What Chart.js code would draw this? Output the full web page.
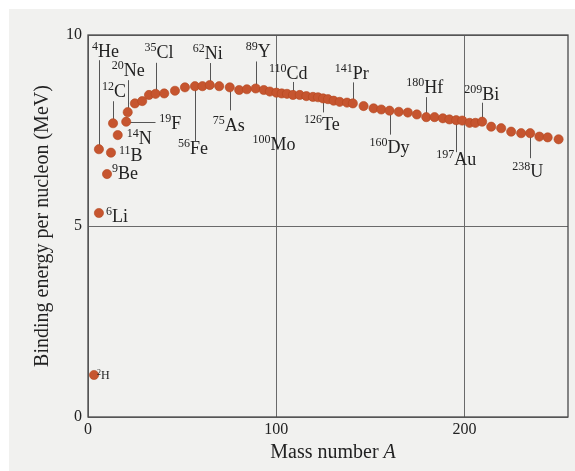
<!DOCTYPE html>
<html>
<head>
<meta charset="utf-8">
<script src="https://cdn.jsdelivr.net/npm/chart.js@4/dist/chart.umd.min.js"></script>
<style>
  html, body { margin: 0; padding: 0; background: #fff; }
  #wrap { width: 575px; height: 471px; }
</style>
</head>
<body>
<div id="wrap"><canvas id="chart"></canvas></div>
<script>
// mass number A of each plotted nucleus, as placed in the figure
const massNumbers = [
  3.2, 5.8, 5.8, 10.1, 12.2, 13.3, 15.8, 20.3, 21.1,
  24.9, 28.8, 32.4, 35.9, 40.5, 46.2, 51.5, 56.8, 60.8, 64.7,
  69.7, 75.3, 80.3, 84.4, 89.1, 93.4, 96.6, 100.1, 102.9, 105.7,
  108.9, 112.5, 116.0, 119.5, 122.2, 124.9, 127.5, 130.5, 133.7, 137.6,
  140.7, 146.4, 151.7, 155.8, 160.2, 165.1, 169.9, 174.7, 179.7, 184.1,
  188.5, 192.0, 195.6, 198.8, 202.7, 205.8, 209.4, 214.2, 219.5, 224.8,
  230.1, 234.9, 239.8, 244.2, 250.0
];
// binding energy per nucleon (MeV)
const bindingEnergies = [
  1.10, 5.34, 7.01, 6.36, 6.92, 7.69, 7.38, 7.73, 7.98,
  8.21, 8.27, 8.43, 8.46, 8.47, 8.54, 8.63, 8.66, 8.66, 8.69,
  8.66, 8.63, 8.56, 8.58, 8.60, 8.56, 8.52, 8.49, 8.47, 8.46,
  8.43, 8.43, 8.40, 8.38, 8.37, 8.34, 8.32, 8.28, 8.25, 8.23,
  8.21, 8.14, 8.08, 8.05, 8.02, 7.99, 7.97, 7.92, 7.85, 7.85,
  7.82, 7.79, 7.77, 7.76, 7.70, 7.70, 7.73, 7.60, 7.56, 7.47,
  7.43, 7.43, 7.34, 7.32, 7.27
];
const xTicks = [0, 100, 200];
const yTicks = [0, 5, 10];

// labelled nuclei: point index, mass number, symbol
const nuclideIndex = [0, 1, 2, 3, 4, 5, 6, 7, 8, 12, 16, 18, 20, 23, 26, 29, 34, 39, 43, 47, 51, 55, 60];
const nuclideMass = ["2", "6", "4", "9", "11", "12", "14", "19", "20", "35", "56", "62", "75", "89", "100", "110", "126", "141", "160", "180", "197", "209", "238"];
const nuclideSymbol = ["H", "Li", "He", "Be", "B", "C", "N", "F", "Ne", "Cl", "Fe", "Ni", "As", "Y", "Mo", "Cd", "Te", "Pr", "Dy", "Hf", "Au", "Bi", "U"];

// where each label sits relative to its point (px), and its leader line
const labelLayout = [
  {dx: 3, dy: 4, small: true},
  {dx: 7, dy: 9},
  {dx: -7, dy: -92, lead: -89},
  {dx: 5, dy: 5},
  {dx: 8, dy: 8},
  {dx: -11, dy: -26, lead: -22},
  {dx: 9, dy: 9},
  {dx: 33, dy: 7, hlead: 29},
  {dx: -16, dy: -36, lead: -32},
  {dx: -11, dy: -36, lead: -31},
  {dx: -17, dy: 68, lead: 55},
  {dx: -17, dy: -26, lead: -22},
  {dx: -17, dy: 44, lead: 23},
  {dx: -10, dy: -31, lead: -27},
  {dx: -24, dy: 57},
  {dx: -24, dy: -16, lead: -13},
  {dx: -19, dy: 32, lead: 14},
  {dx: -18, dy: -24, lead: -21},
  {dx: -20, dy: 42, lead: 24},
  {dx: -20, dy: -24, lead: -20},
  {dx: -20, dy: 45, lead: 32},
  {dx: -18, dy: -22, lead: -19},
  {dx: -18, dy: 44, lead: 25}
];

const serif = "'Liberation Serif', 'DejaVu Serif', serif";

const pagePlugin = {
  id: "page",
  beforeDraw(chart) {
    const ctx = chart.ctx;
    ctx.save();
    ctx.fillStyle = "#fff";
    ctx.fillRect(0, 0, chart.width, chart.height);
    ctx.fillStyle = "#f1f1ef";
    ctx.fillRect(9, 9, chart.width - 9, chart.height - 9);
    ctx.restore();
  },
  beforeDatasetsDraw(chart) {
    const {ctx, chartArea: a, scales: {x, y}} = chart;
    ctx.save();
    // frame round the plot
    ctx.strokeStyle = "#4a4a4a";
    ctx.lineWidth = 1.3;
    ctx.strokeRect(a.left, a.top, a.right - a.left, a.bottom - a.top);
    // leader lines
    ctx.strokeStyle = "#555";
    ctx.lineWidth = 1;
    nuclideIndex.forEach((i, k) => {
      const lay = labelLayout[k];
      const px = Math.round(x.getPixelForValue(massNumbers[i])) + 0.5;
      const py = y.getPixelForValue(bindingEnergies[i]);
      ctx.beginPath();
      if (lay.lead) {
        ctx.moveTo(px, py);
        ctx.lineTo(px, py + lay.lead);
      } else if (lay.hlead) {
        ctx.moveTo(px, Math.round(py) + 0.5);
        ctx.lineTo(px + lay.hlead, Math.round(py) + 0.5);
      }
      ctx.stroke();
    });
    ctx.restore();
  },
  afterDatasetsDraw(chart) {
    const {ctx, chartArea: a, scales: {x, y}} = chart;
    ctx.save();
    ctx.fillStyle = "#222";
    ctx.textBaseline = "alphabetic";
    ctx.textAlign = "left";
    nuclideIndex.forEach((i, k) => {
      const lay = labelLayout[k];
      const px = x.getPixelForValue(massNumbers[i]) + lay.dx;
      const py = y.getPixelForValue(bindingEnergies[i]) + lay.dy;
      const supSize = lay.small ? 8 : 12;
      const symSize = lay.small ? 12 : 18;
      ctx.font = supSize + "px " + serif;
      ctx.fillText(nuclideMass[k], px, py - (lay.small ? 4 : 7));
      const w = ctx.measureText(nuclideMass[k]).width;
      ctx.font = symSize + "px " + serif;
      ctx.fillText(nuclideSymbol[k], px + w, py);
    });
    // x axis title with italic A
    const t1 = "Mass number ";
    ctx.font = "20px " + serif;
    const w1 = ctx.measureText(t1).width;
    ctx.font = "italic 20px " + serif;
    const w2 = ctx.measureText("A").width;
    const cx = (a.left + a.right) / 2 + 5;
    const by = 458;
    ctx.font = "20px " + serif;
    ctx.fillText(t1, cx - (w1 + w2) / 2, by);
    ctx.font = "italic 20px " + serif;
    ctx.fillText("A", cx - (w1 + w2) / 2 + w1, by);
    ctx.restore();
  }
};

new Chart(document.getElementById("chart"), {
  type: "scatter",
  data: {
    datasets: [{
      data: massNumbers.map((m, i) => ({x: m, y: bindingEnergies[i]})),
      backgroundColor: "#c6552f",
      borderColor: "#b4461f",
      borderWidth: 0.6,
      pointRadius: 4.6,
      showLine: false
    }]
  },
  options: {
    responsive: true,
    maintainAspectRatio: false,
    animation: false,
    layout: {padding: {top: 35, right: 7, left: 0, bottom: 0}},
    plugins: {legend: {display: false}, tooltip: {enabled: false}},
    scales: {
      x: {
        type: "linear",
        min: 0,
        max: 255,
        afterBuildTicks: (s) => { s.ticks = xTicks.map(v => ({value: v})); },
        afterFit: (s) => { s.height = 54; },
        ticks: {font: {family: serif, size: 16}, color: "#222", padding: 3},
        grid: {color: "#6a6a6a", lineWidth: 1, drawTicks: false},
        border: {display: false}
      },
      y: {
        min: 0,
        max: 10,
        afterBuildTicks: (s) => { s.ticks = yTicks.map(v => ({value: v})); },
        afterFit: (s) => { s.width = 88; },
        ticks: {font: {family: serif, size: 16}, color: "#222", padding: 6},
        grid: {color: "#6a6a6a", lineWidth: 1, drawTicks: false},
        border: {display: false},
        title: {
          display: true,
          text: "Binding energy per nucleon (MeV)",
          font: {family: serif, size: 20},
          color: "#222",
          padding: {top: 31, bottom: 0}
        }
      }
    }
  },
  plugins: [pagePlugin]
});
</script>
</body>
</html>
